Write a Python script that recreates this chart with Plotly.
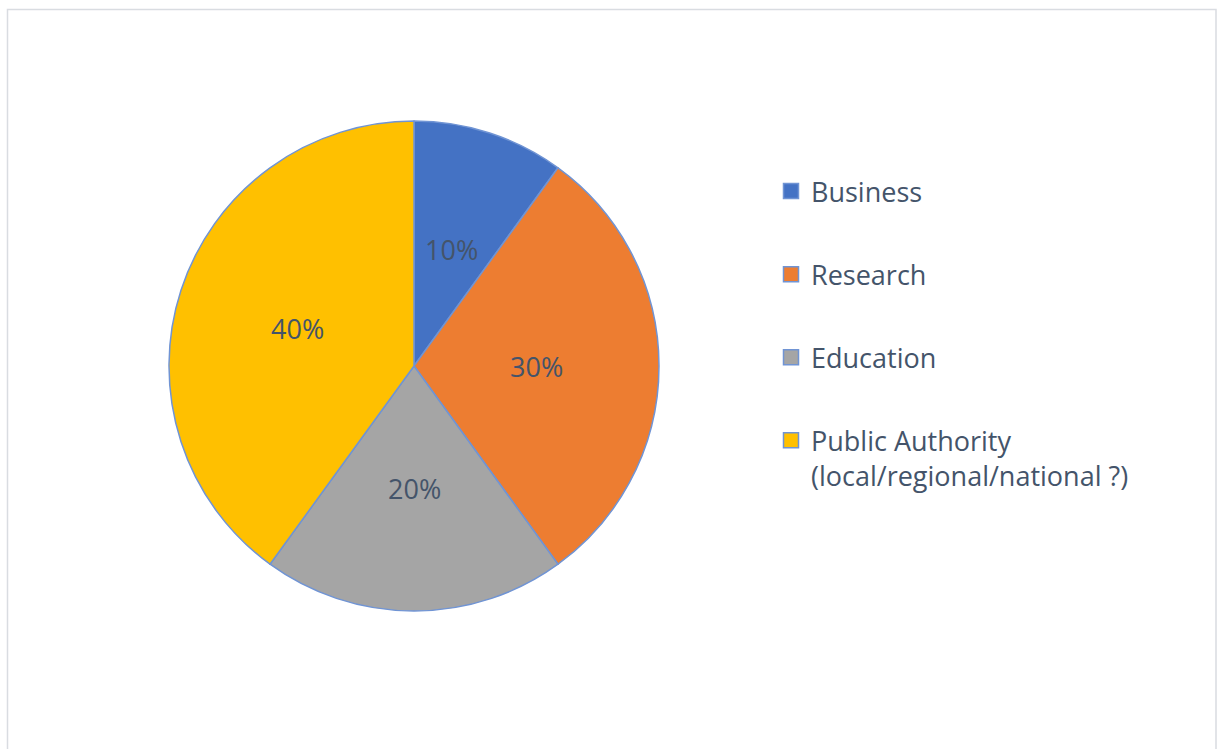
import math
import plotly.graph_objects as go

categories = ["Business", "Research", "Education", "Public Authority<br>(local/regional/national ?)"]
values = [10, 30, 20, 40]
colors = ["#4472C4", "#ED7D31", "#A5A5A5", "#FFC000"]

W, H = 1223, 749
cx, cy, R = 414, 366, 245
text_color = "#44546A"
edge = "#7094d4"
font = "Open Sans"

fig = go.Figure()
fig.add_trace(go.Pie(
    labels=categories, values=values, sort=False, direction="clockwise", rotation=0,
    marker=dict(colors=colors, line=dict(color=edge, width=1.5)),
    textinfo="none",
    domain=dict(x=[(cx - R) / W, (cx + R) / W], y=[(H - cy - R) / H, (H - cy + R) / H]),
    showlegend=False, hoverinfo="label+percent",
))

# percentage labels placed at half radius along each slice's bisector
total = sum(values)
annotations = []
cum = 0
for v in values:
    mid = (cum + v / 2) / total * 2 * math.pi
    cum += v
    px = cx + 0.5 * R * math.sin(mid)
    py = cy - 0.5 * R * math.cos(mid)
    annotations.append(dict(
        x=px / W, y=(H - py) / H, xref="paper", yref="paper", showarrow=False,
        text=f"{round(v / total * 100)}%", font=dict(family=font, size=27, color=text_color),
        xanchor="center", yanchor="middle"))

for i, (cat, col) in enumerate(zip(categories, colors)):
    fig.add_trace(go.Scatter(
        x=[None], y=[None], mode="markers", name=cat, legendgroup=f"g{i}",
        marker=dict(symbol="square", size=15, color=col, line=dict(color=edge, width=1.5)),
    ))

fig.update_layout(
    width=W, height=H, margin=dict(l=0, r=0, t=0, b=0),
    paper_bgcolor="white", plot_bgcolor="white",
    xaxis=dict(visible=False), yaxis=dict(visible=False),
    legend=dict(x=771 / W, xanchor="left", y=(H - 167) / H, yanchor="top",
                font=dict(family=font, size=27, color=text_color),
                tracegroupgap=45, valign="top", bgcolor="rgba(0,0,0,0)"),
    annotations=annotations,
    shapes=[dict(type="rect", xref="paper", yref="paper",
                 x0=7.5 / W, x1=1216 / W, y0=-0.02, y1=(H - 9.5) / H,
                 line=dict(color="#D9DCE1", width=1.5), fillcolor="rgba(0,0,0,0)")],
)

fig.write_html("out.html", config={"displayModeBar": False},
               post_script="document.body.style.margin='0';")
